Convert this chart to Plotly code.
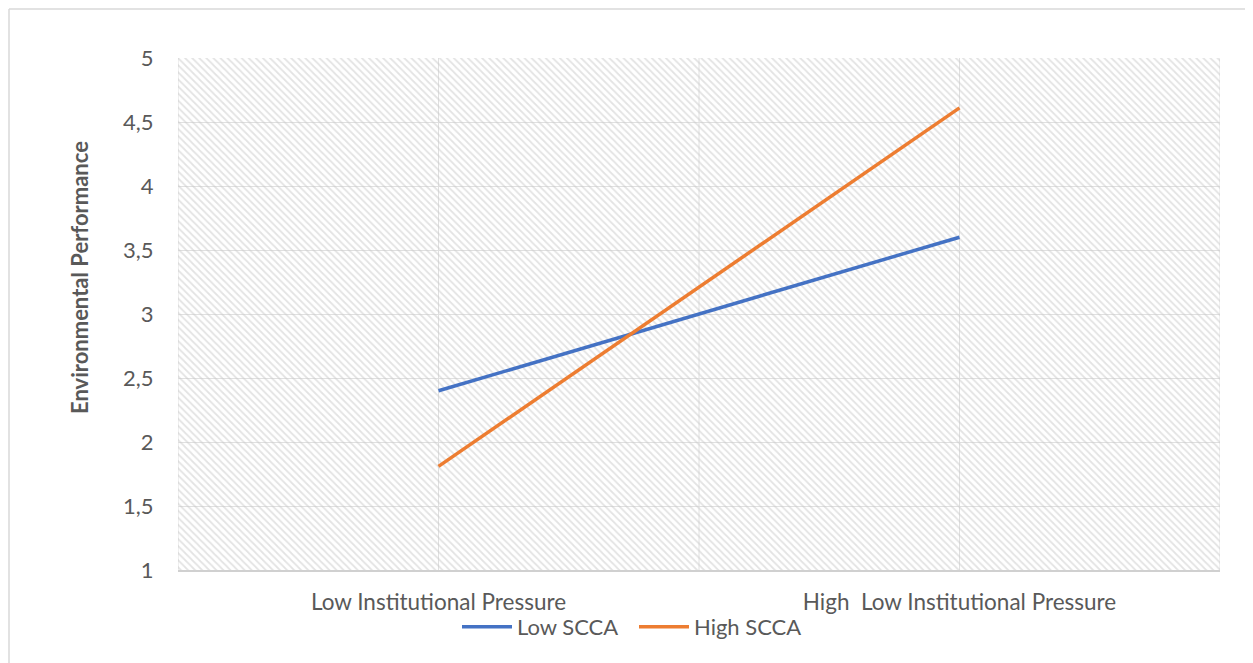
import plotly.graph_objects as go

categories = ["Low Institutional Pressure", "High  Low Institutional Pressure"]
cat_pos = [0.5, 1.5]
low_scca = [2.4, 3.6]
high_scca = [1.81, 4.61]
series_names = ["Low SCCA", "High SCCA"]
y_ticks = [1, 1.5, 2, 2.5, 3, 3.5, 4, 4.5, 5]
y_tick_labels = ["1", "1,5", "2", "2,5", "3", "3,5", "4", "4,5", "5"]
x_grid = [0, 0.5, 1, 1.5, 2]

Y_MIN, Y_MAX = 1, 5
X_MIN, X_MAX = 0, 2

FONT = "Lato"
TXT = "#595959"
GRID = "#e0e0e0"

W, H = 1245, 655
ML, MR, MT, MB = 170, 33, 50, 93
PW, PH = W - ML - MR, H - MT - MB

fig = go.Figure()

# hatched plot-area background
fig.add_trace(go.Bar(
    x=[(X_MIN + X_MAX) / 2], y=[Y_MAX - Y_MIN], base=[Y_MIN], width=[X_MAX - X_MIN],
    marker=dict(color="rgba(0,0,0,0)", line=dict(width=0),
                pattern=dict(shape="\\", fgcolor="#c8c8c8", bgcolor="rgba(0,0,0,0)",
                             size=5, solidity=0.35)),
    showlegend=False, hoverinfo="skip",
))

fig.add_trace(go.Scatter(x=cat_pos, y=low_scca, mode="lines", name=series_names[0],
                         line=dict(color="#4472C4", width=3.5)))
fig.add_trace(go.Scatter(x=cat_pos, y=high_scca, mode="lines", name=series_names[1],
                         line=dict(color="#ED7D31", width=3.5)))

# x gridlines drawn as vertical lines from tick list
for gx in x_grid:
    fig.add_shape(type="line", xref="x", yref="y", x0=gx, x1=gx, y0=Y_MIN, y1=Y_MAX,
                  line=dict(color=GRID, width=1), layer="below")

fig.update_layout(
    width=W, height=H,
    margin=dict(l=ML, r=MR, t=MT, b=MB),
    paper_bgcolor="white", plot_bgcolor="white",
    font=dict(family=FONT, size=22, color=TXT),
    barmode="overlay",
    xaxis=dict(range=[X_MIN, X_MAX], tickmode="array", tickvals=cat_pos, ticktext=categories,
               showgrid=False, zeroline=False, showline=True, linecolor="#d0d0d0", linewidth=1.5,
               ticks="outside", ticklen=11, tickcolor="rgba(0,0,0,0)", automargin=False,
               tickfont=dict(family=FONT, size=22.5, color=TXT), fixedrange=True),
    yaxis=dict(range=[Y_MIN, Y_MAX], tickmode="array", tickvals=y_ticks, ticktext=y_tick_labels,
               showgrid=True, gridcolor=GRID, gridwidth=1, zeroline=False, showline=False,
               ticks="outside", ticklen=19, tickcolor="rgba(0,0,0,0)", automargin=False,
               tickfont=dict(family=FONT, size=22, color=TXT), fixedrange=True),
    legend=dict(orientation="h", xref="paper", yref="paper", x=(626 - ML) / PW, xanchor="center",
                y=-(619 - (H - MB)) / PH, yanchor="middle",
                font=dict(family=FONT, size=22, color=TXT),
                bgcolor="rgba(0,0,0,0)", itemwidth=50, entrywidth=112, entrywidthmode="pixels"),
    annotations=[dict(text="<b>Environmental Performance</b>", xref="paper", yref="paper",
                      x=-99 / PW, y=0.5 + 36 / PH, xanchor="center", yanchor="middle",
                      textangle=-90, showarrow=False,
                      font=dict(family=FONT, size=22, color=TXT))],
)

# outer chart border (top and left visible)
bx = (1 - ML) / PW
by = (H - MB - 1) / PH
fig.add_shape(type="line", xref="paper", yref="paper", x0=bx, x1=(W - ML) / PW,
              y0=by, y1=by, line=dict(color="#d9d9d9", width=1.5))
fig.add_shape(type="line", xref="paper", yref="paper", x0=bx, x1=bx,
              y0=by, y1=-MB / PH, line=dict(color="#d9d9d9", width=1.5))

fig.write_html("out.html")
